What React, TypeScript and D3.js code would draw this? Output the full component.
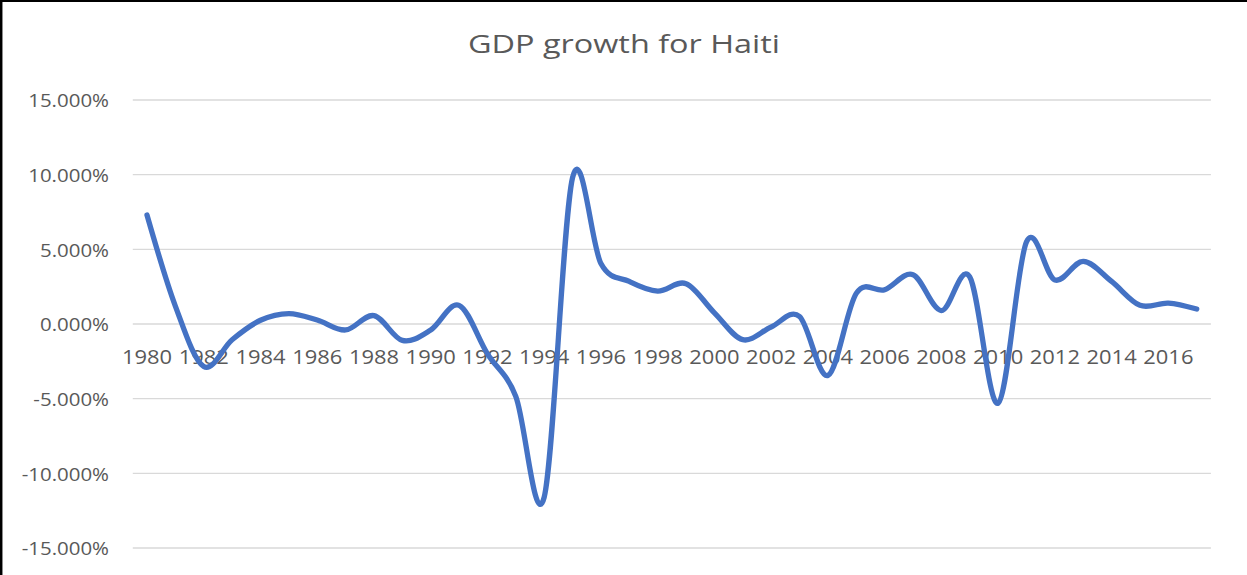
import React from "react";
import * as d3 from "d3";

const years: number[] = [
  1980, 1981, 1982, 1983, 1984, 1985, 1986, 1987, 1988, 1989,
  1990, 1991, 1992, 1993, 1994, 1995, 1996, 1997, 1998, 1999,
  2000, 2001, 2002, 2003, 2004, 2005, 2006, 2007, 2008, 2009,
  2010, 2011, 2012, 2013, 2014, 2015, 2016, 2017,
];
const growth: number[] = [
  7.3, 1.2, -2.85, -1.05, 0.25, 0.7, 0.27, -0.4, 0.56, -1.1,
  -0.4, 1.25, -2.0, -4.85, -11.6, 9.8, 4.05, 2.85, 2.2, 2.7,
  0.75, -1.05, -0.2, 0.5, -3.45, 2.05, 2.3, 3.3, 0.9, 3.15,
  -5.3, 5.5, 2.95, 4.2, 2.85, 1.25, 1.4, 1.0,
];
const yTicks: number[] = [15, 10, 5, 0, -5, -10, -15];
const xLabelYears: number[] = years.filter((y) => (y - 1980) % 2 === 0 && y <= 2016);
const title = "GDP growth for Haiti";

const W = 1247;
const H = 575;
const FONT = "'Open Sans', sans-serif";
const TXT = "#595959";

export default function App() {
  const x = d3.scaleBand<number>().domain(years).range([132.8, 1210.9]);
  const y = d3.scaleLinear().domain([-15, 15]).range([548, 100]);
  const cx = (yr: number) => (x(yr) as number) + x.bandwidth() / 2;
  const line = d3
    .line<number>()
    .x((_, i) => cx(years[i]))
    .y((d) => y(d))
    .curve(d3.curveCardinal.tension(0));
  const path = line(growth) || "";
  const fmt = (v: number) => `${v.toFixed(3)}%`;

  return (
    <svg
      width={W}
      height={H}
      style={{ position: "absolute", left: 0, top: 0, background: "#fff" }}
    >
      <rect x={0} y={0} width={W} height={H} fill="#fff" />
      {yTicks.map((t) => (
        <line
          key={t}
          x1={132.8}
          x2={1210.9}
          y1={y(t)}
          y2={y(t)}
          stroke="#d9d9d9"
          strokeWidth={1.4}
        />
      ))}
      {yTicks.map((t) => (
        <g key={"yl" + t} transform={`translate(109,${y(t) + 7.2}) scale(1.1,1)`}>
          <text textAnchor="end" fontFamily={FONT} fontSize={18.6} fill={TXT}>
            {fmt(t)}
          </text>
        </g>
      ))}
      {xLabelYears.map((yr) => (
        <g key={"xl" + yr} transform={`translate(${cx(yr)},${y(0) + 39.5}) scale(1.07,1)`}>
          <text textAnchor="middle" fontFamily={FONT} fontSize={20.5} fill={TXT}>
            {yr}
          </text>
        </g>
      ))}
      <path
        d={path}
        fill="none"
        stroke="#4472C4"
        strokeWidth={5.3}
        strokeLinecap="round"
        strokeLinejoin="round"
      />
      <text
        x={468}
        y={53}
        fontFamily={FONT}
        fontSize={25}
        fill={TXT}
        textLength={312}
        lengthAdjust="spacingAndGlyphs"
      >
        {title}
      </text>
      <line x1={1.2} x2={1.2} y1={0} y2={H} stroke="#000" strokeWidth={2.5} />
      <line x1={0} x2={W} y1={1} y2={1} stroke="#000" strokeWidth={2} />
    </svg>
  );
}
